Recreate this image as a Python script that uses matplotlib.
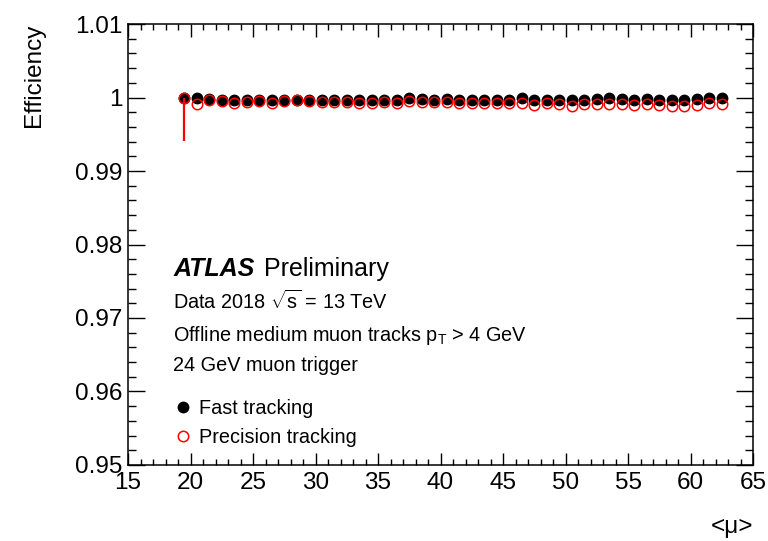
import matplotlib
matplotlib.use("Agg")
import matplotlib.pyplot as plt
from matplotlib.ticker import MultipleLocator, FuncFormatter
from matplotlib.lines import Line2D

plt.rcParams['font.family'] = ['Liberation Sans', 'DejaVu Sans']
plt.rcParams['mathtext.fontset'] = 'custom'
plt.rcParams['mathtext.rm'] = 'Liberation Sans'
plt.rcParams['mathtext.it'] = 'Liberation Sans:italic'

# <mu> bin centres
mu = [19.5, 20.5, 21.5, 22.5, 23.5, 24.5, 25.5, 26.5, 27.5, 28.5, 29.5,
      30.5, 31.5, 32.5, 33.5, 34.5, 35.5, 36.5, 37.5, 38.5, 39.5, 40.5,
      41.5, 42.5, 43.5, 44.5, 45.5, 46.5, 47.5, 48.5, 49.5, 50.5, 51.5,
      52.5, 53.5, 54.5, 55.5, 56.5, 57.5, 58.5, 59.5, 60.5, 61.5, 62.5]

# fast tracking efficiency
fast = [1.0000, 1.0000, 0.9998, 0.9997, 0.9996, 0.9997, 0.9997, 0.9996, 0.9997, 0.9996, 0.9997,
        0.9997, 0.9997, 0.9997, 0.9996, 0.9996, 0.9997, 0.9996, 0.9999, 0.9998, 0.9997, 0.9998,
        0.9997, 0.9997, 0.9997, 0.9997, 0.9997, 0.9999, 0.9997, 0.9997, 0.9997, 0.9996, 0.9996,
        0.9998, 0.9999, 0.9998, 0.9997, 0.9998, 0.9997, 0.9997, 0.9997, 0.9998, 0.9999, 1.0000]

# precision tracking efficiency
prec = [1.0000, 0.9991, 0.9997, 0.9995, 0.9992, 0.9994, 0.9995, 0.9993, 0.9995, 0.9996, 0.9995,
        0.9994, 0.9994, 0.9994, 0.9993, 0.9993, 0.9994, 0.9992, 0.9995, 0.9994, 0.9994, 0.9994,
        0.9992, 0.9992, 0.9993, 0.9992, 0.9993, 0.9993, 0.9990, 0.9992, 0.9991, 0.9989, 0.9991,
        0.9991, 0.9991, 0.9991, 0.9990, 0.9991, 0.9990, 0.9988, 0.9988, 0.9990, 0.9992, 0.9991]

# lower error of the precision tracking points (upper is 0)
prec_err_lo = [0.0059] + [0.0] * 43

fig = plt.figure(figsize=(7.68, 5.41), dpi=100)
ax = fig.add_axes([0.1667, 0.1405, 0.8138, 0.8151])

ax.plot(mu, fast, 'o', color='black', markersize=7.5, zorder=3)
ax.errorbar(mu, prec, yerr=[prec_err_lo, [0.0] * len(prec)], fmt='o', color='red',
            mfc='none', mec='red', markersize=7.5, mew=1.1, elinewidth=1.6,
            capsize=0, zorder=4)

ax.set_xlim(15, 65)
ax.set_ylim(0.95, 1.01)
ax.xaxis.set_major_locator(MultipleLocator(5))
ax.xaxis.set_minor_locator(MultipleLocator(1))
ax.yaxis.set_major_locator(MultipleLocator(0.01))
ax.yaxis.set_minor_locator(MultipleLocator(0.002))
ax.yaxis.set_major_formatter(FuncFormatter(lambda v, p: '%g' % round(v, 3)))

ax.tick_params(which='both', direction='in', top=True, right=True, labelsize=17.5, width=1)
ax.tick_params(axis='x', which='major', length=9, pad=5)
ax.tick_params(axis='x', which='minor', length=4.5)
ax.tick_params(axis='y', which='major', length=12, pad=4)
ax.tick_params(axis='y', which='minor', length=6)
for s in ax.spines.values():
    s.set_linewidth(1.1)

ax.set_ylabel('Efficiency', fontsize=17.5, loc='top', labelpad=22)
ax.set_xlabel('<μ>', fontsize=17.5, loc='right', labelpad=16)

# ATLAS label
ax.text(0.072, 0.428, 'ATLAS', transform=ax.transAxes, fontsize=18,
        fontweight='bold', fontstyle='italic')
ax.text(0.218, 0.428, 'Preliminary', transform=ax.transAxes, fontsize=18)
ax.text(0.072, 0.354, r'Data 2018 $\sqrt{\mathrm{s}}$ = 13 TeV', transform=ax.transAxes, fontsize=14.3)
ax.text(0.072, 0.282, r'Offline medium muon tracks p$_\mathrm{T}$ > 4 GeV', transform=ax.transAxes, fontsize=14.3)
ax.text(0.072, 0.213, '24 GeV muon trigger', transform=ax.transAxes, fontsize=14.3)

handles = [Line2D([], [], ls='none', marker='o', color='black', markersize=7.5),
           Line2D([], [], ls='none', marker='o', mfc='none', mec='red', mew=1.1, markersize=7.5)]
ax.legend(handles, ['Fast tracking', 'Precision tracking'], loc='upper left',
          bbox_to_anchor=(0.043, 0.19), frameon=False, fontsize=14.3,
          handlelength=1.0, handletextpad=0.3, labelspacing=0.5)

fig.savefig('out.png', dpi=100)
